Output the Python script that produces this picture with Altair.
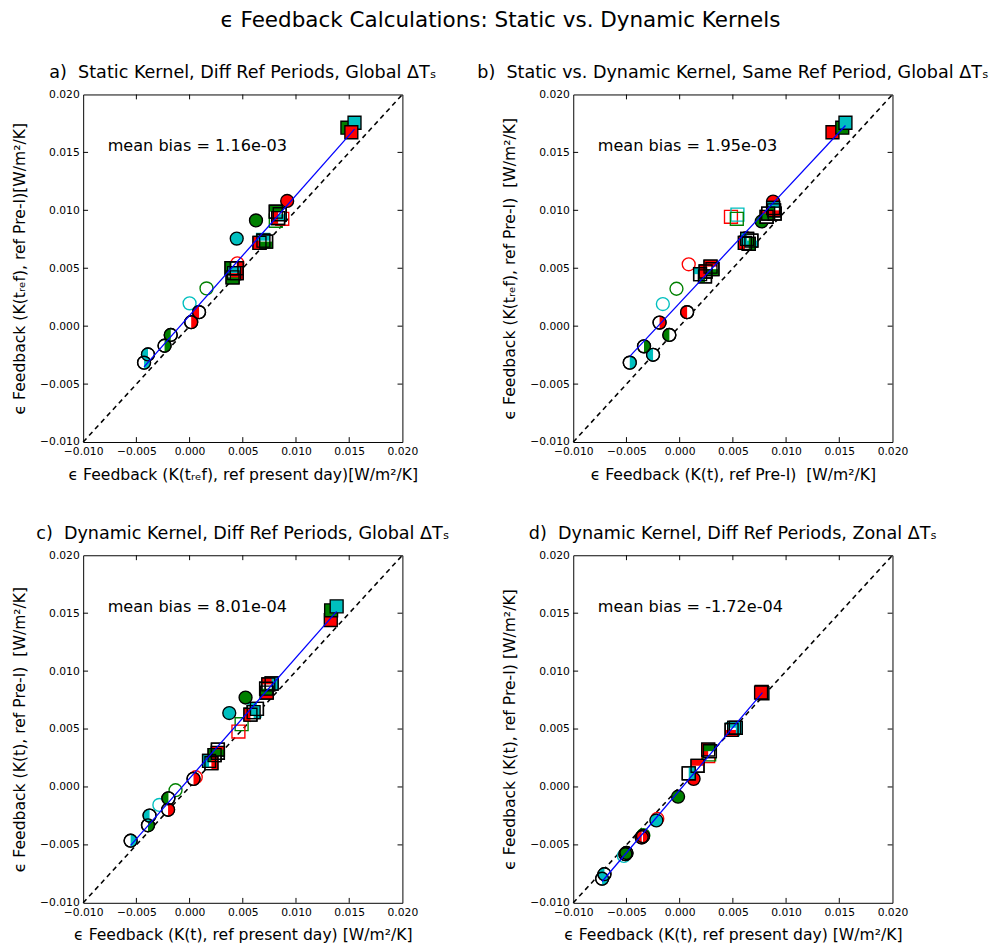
import altair as alt
import pandas as pd

FONT = "DejaVu Sans"
W, H = 327, 356

# ---------------- data ----------------
# panel a
A_X = [0.01483, 0.01550, 0.01520, 0.00917, 0.00624, 0.00443, 0.00449, 0.00159, 0.00000,
       0.00089, 0.00015, -0.00177, -0.00235, -0.00391, -0.00428,
       0.00810, 0.00871, 0.00690,
       0.00810, 0.00847, 0.00832, 0.00657, 0.00694, 0.00719,
       0.00394, 0.00443, 0.00419, 0.00443, 0.00404]
A_Y = [0.01713, 0.01756, 0.01674, 0.01081, 0.00913, 0.00756, 0.00542, 0.00326, 0.00197,
       0.00121, 0.00034, -0.00076, -0.00169, -0.00244, -0.00315,
       0.00910, 0.00927, 0.00745,
       0.00988, 0.00966, 0.00933, 0.00719, 0.00738, 0.00730,
       0.00500, 0.00500, 0.00458, 0.00458, 0.00421]
A_MARK = ["s", "s", "s", "o", "o", "o", "o", "o", "o",
          "o", "o", "o", "o", "o", "o",
          "s", "s", "s",
          "s", "s", "s", "s", "s", "s",
          "s", "s", "s", "s", "s"]
A_FILL = ["full", "full", "full", "full", "full", "full", "none", "none", "none",
          "left", "right", "left", "right", "left", "right",
          "none", "none", "none",
          "top", "bottom", "left", "left", "top", "bottom",
          "left", "right", "top", "bottom", "bottom"]
A_COL = ["g", "c", "r", "r", "g", "c", "r", "g", "c",
         "r", "r", "g", "g", "c", "c",
         "g", "r", "c",
         "g", "c", "r", "r", "c", "g",
         "g", "r", "c", "r", "g"]

# panel b
B_X = [0.01436, 0.01528, 0.01558, 0.00878, 0.00771, 0.00625, 0.00085, -0.00030, -0.00158,
       0.00070, -0.00189, -0.00097, -0.00335, -0.00250, -0.00469,
       0.00482, 0.00543, 0.00537,
       0.00192, 0.00238, 0.00244, 0.00290, 0.00308,
       0.00613, 0.00634, 0.00674, 0.00649,
       0.00817, 0.00832, 0.00893, 0.00878, 0.00887]
B_Y = [0.01674, 0.01713, 0.01756, 0.01076, 0.00904, 0.00759, 0.00534, 0.00323, 0.00191,
       0.00121, 0.00031, -0.00076, -0.00174, -0.00247, -0.00315,
       0.00944, 0.00963, 0.00927,
       0.00449, 0.00430, 0.00472, 0.00514, 0.00492,
       0.00719, 0.00753, 0.00739, 0.00711,
       0.00944, 0.00972, 0.00972, 0.01020, 0.01000]
B_MARK = ["s", "s", "s", "o", "o", "o", "o", "o", "o",
          "o", "o", "o", "o", "o", "o",
          "s", "s", "s",
          "s", "s", "s", "s", "s",
          "s", "s", "s", "s",
          "s", "s", "s", "s", "s"]
B_FILL = ["full", "full", "full", "full", "full", "full", "none", "none", "none",
          "left", "right", "left", "right", "left", "right",
          "none", "none", "none",
          "top", "left", "left", "top", "bottom",
          "left", "left", "bottom", "right",
          "top", "bottom", "left", "top", "bottom"]
B_COL = ["r", "g", "c", "r", "g", "c", "r", "g", "c",
         "r", "r", "g", "g", "c", "c",
         "r", "c", "g",
         "c", "g", "r", "r", "g",
         "r", "c", "c", "g",
         "r", "g", "g", "c", "r"]

# panel c
C_X = [0.01327, 0.01330, 0.01382, 0.00731, 0.00526, 0.00373, 0.00058, -0.00132, -0.00284,
       0.00037, -0.00202, -0.00199, -0.00391, -0.00376, -0.00554,
       0.00489, 0.00459, 0.00610,
       0.00725, 0.00719, 0.00740, 0.00771,
       0.00572, 0.00602, 0.00633,
       0.00266, 0.00266, 0.00235, 0.00205, 0.00183]
C_Y = [0.01441, 0.01525, 0.01559, 0.00848, 0.00772, 0.00638, 0.00084, -0.00028, -0.00155,
       0.00070, -0.00197, -0.00098, -0.00331, -0.00247, -0.00464,
       0.00542, 0.00478, 0.00660,
       0.00815, 0.00848, 0.00885, 0.00893,
       0.00624, 0.00646, 0.00674,
       0.00295, 0.00323, 0.00275, 0.00205, 0.00225]
C_MARK = ["s", "s", "s", "o", "o", "o", "o", "o", "o",
          "o", "o", "o", "o", "o", "o",
          "s", "s", "s",
          "s", "s", "s", "s",
          "s", "s", "s",
          "s", "s", "s", "s", "s"]
C_FILL = ["full", "full", "full", "full", "full", "full", "none", "none", "none",
          "right", "right", "left", "right", "left", "right",
          "none", "none", "none",
          "bottom", "bottom", "top", "right",
          "left", "right", "left",
          "top", "bottom", "left", "right", "left"]
C_COL = ["r", "g", "c", "r", "g", "c", "r", "g", "c",
         "r", "r", "g", "g", "c", "c",
         "g", "r", "c",
         "r", "g", "r", "c",
         "r", "c", "c",
         "r", "g", "g", "r", "c"]

# panel d
D_X = [0.00771, 0.00778, 0.00765,
       0.00488, 0.00512, 0.00528, 0.00268, 0.00284, 0.00168, 0.00085,
       0.00268, 0.00277, 0.00500,
       0.00131, -0.00015, -0.00219,
       -0.00210, -0.00341, -0.00524,
       -0.00357, -0.00345, -0.00500, -0.00510, -0.00729, -0.00707]
D_Y = [0.00820, 0.00809, 0.00815,
       0.00492, 0.00511, 0.00511, 0.00323, 0.00309, 0.00183, 0.00118,
       0.00267, 0.00281, 0.00500,
       0.00070, -0.00084, -0.00289,
       -0.00275, -0.00416, -0.00595,
       -0.00435, -0.00425, -0.00570, -0.00580, -0.00792, -0.00753]
D_MARK = ["s", "s", "s",
          "s", "s", "s", "s", "s", "s", "s",
          "s", "s", "s",
          "o", "o", "o",
          "o", "o", "o",
          "o", "o", "o", "o", "o", "o"]
D_FILL = ["full", "full", "full",
          "bottom", "top", "right", "left", "top", "top", "right",
          "none", "none", "none",
          "full", "full", "full",
          "none", "none", "none",
          "left", "right", "left", "right", "right", "left"]
D_COL = ["g", "c", "r",
         "r", "c", "c", "r", "g", "r", "c",
         "r", "g", "c",
         "r", "g", "c",
         "r", "g", "c",
         "r", "r", "g", "g", "c", "c"]

BIAS = ["mean bias = 1.16e-03", "mean bias = 1.95e-03", "mean bias = 8.01e-04", "mean bias = -1.72e-04"]
TITLES = ["a)\u00a0 Static Kernel, Diff Ref Periods, Global ΔTₛ",
          "b)\u00a0 Static vs. Dynamic Kernel, Same Ref Period, Global ΔTₛ",
          "c)\u00a0 Dynamic Kernel, Diff Ref Periods, Global ΔTₛ",
          "d)\u00a0 Dynamic Kernel, Diff Ref Periods, Zonal ΔTₛ"]
XTITLES = ["ϵ Feedback (K(tᵣₑf), ref present day)[W/m²/K]",
           "ϵ Feedback (K(t), ref Pre-I)\u00a0 [W/m²/K]",
           "ϵ Feedback (K(t), ref present day) [W/m²/K]",
           "ϵ Feedback (K(t), ref present day) [W/m²/K]"]
YTITLES = ["ϵ Feedback (K(tᵣₑf), ref Pre-I)[W/m²/K]",
           "ϵ Feedback (K(tᵣₑf), ref Pre-I)\u00a0 [W/m²/K]",
           "ϵ Feedback (K(t), ref Pre-I)\u00a0 [W/m²/K]",
           "ϵ Feedback (K(t), ref Pre-I) [W/m²/K]"]
TICKS = [-0.010, -0.005, 0.000, 0.005, 0.010, 0.015, 0.020]
INNER_TICKS = [-0.005, 0.000, 0.005, 0.010, 0.015]
DIAG = [-0.010, 0.020]
BIAS_POS = (-0.0077, 0.0155)

COLOR_DOMAIN = ["r", "g", "c"]
COLOR_RANGE = ["#ff0000", "#008000", "#00bfbf"]
HALF_KEYS = ["o_left", "o_right", "o_top", "o_bottom", "s_left", "s_right", "s_top", "s_bottom"]
HALF_PATHS = ["M0,-1A1,1 0 0,0 0,1Z", "M0,-1A1,1 0 0,1 0,1Z",
              "M-1,0A1,1 0 0,1 1,0Z", "M-1,0A1,1 0 0,0 1,0Z",
              "M-1,-1L0,-1L0,1L-1,1Z", "M0,-1L1,-1L1,1L0,1Z",
              "M-1,-1L1,-1L1,0L-1,0Z", "M-1,0L1,0L1,1L-1,1Z"]
MSIZE = 175


def panel(xs, ys, marks, fills, cols, title, xtitle, ytitle, bias):
    df = pd.DataFrame({"x": xs, "y": ys, "mark": marks, "fill": fills, "col": cols})
    df["key"] = df["mark"] + "_" + df["fill"]
    sc = alt.Scale(domain=[-0.010, 0.020], nice=False, zero=False)
    xax = alt.Axis(title=xtitle, values=TICKS, format=".3f", ticks=False, grid=False, domain=False,
                   labelPadding=4, labelFontSize=11, titleFontSize=16, titleFontWeight="normal",
                   titlePadding=10, labelOverlap=False, labelFlush=False)
    yax = alt.Axis(title=ytitle, values=TICKS, format=".3f", ticks=False, grid=False, domain=False,
                   labelPadding=4, labelFontSize=11, titleFontSize=16, titleFontWeight="normal",
                   titlePadding=12, labelOverlap=False, labelFlush=False)

    def X():
        return alt.X("x:Q", scale=sc, axis=xax)

    def Y():
        return alt.Y("y:Q", scale=sc, axis=yax)

    colsc = alt.Scale(domain=COLOR_DOMAIN, range=COLOR_RANGE)
    shape_full = alt.Shape("mark:N", scale=alt.Scale(domain=["o", "s"], range=["circle", "square"]), legend=None)
    shape_half = alt.Shape("key:N", scale=alt.Scale(domain=HALF_KEYS, range=HALF_PATHS), legend=None)

    base = alt.Chart(df)
    diag = alt.Chart(pd.DataFrame({"x": DIAG, "y": DIAG})).mark_line(
        color="black", strokeDash=[5, 4], strokeWidth=1.6).encode(x=X(), y=Y())
    openm = base.transform_filter("datum.fill == 'none'").mark_point(
        filled=False, size=MSIZE, strokeWidth=1.4, opacity=1).encode(
        x=X(), y=Y(), shape=shape_full, stroke=alt.Stroke("col:N", scale=colsc, legend=None))
    fullm = base.transform_filter("datum.fill == 'full'").mark_point(
        filled=True, size=MSIZE, stroke="black", strokeWidth=1.4, opacity=1).encode(
        x=X(), y=Y(), shape=shape_full, fill=alt.Fill("col:N", scale=colsc, legend=None))
    halfcond = "datum.fill != 'none' && datum.fill != 'full'"
    halfbase = base.transform_filter(halfcond).mark_point(
        filled=True, size=MSIZE, fill="white", stroke="black", strokeWidth=1.4, opacity=1).encode(
        x=X(), y=Y(), shape=shape_full)
    halffill = base.transform_filter(halfcond).mark_point(
        filled=True, size=MSIZE, strokeWidth=0, opacity=1).encode(
        x=X(), y=Y(), shape=shape_half, fill=alt.Fill("col:N", scale=colsc, legend=None))
    halfline = base.transform_filter(halfcond).mark_point(
        filled=False, size=MSIZE, stroke="black", strokeWidth=1.4, opacity=1).encode(
        x=X(), y=Y(), shape=shape_full)
    reg = base.transform_regression("x", "y").mark_line(color="blue", strokeWidth=1.3).encode(x=X(), y=Y())
    txt = alt.Chart(pd.DataFrame({"x": [BIAS_POS[0]], "y": [BIAS_POS[1]], "label": [bias]})).mark_text(
        align="left", baseline="middle", fontSize=16.5, font=FONT, color="black").encode(
        x=X(), y=Y(), text="label:N")
    xt = alt.Chart(pd.DataFrame({"x": INNER_TICKS}))
    yt = alt.Chart(pd.DataFrame({"y": INNER_TICKS}))
    tb = xt.mark_rule(color="black", strokeWidth=1).encode(x=X(), y=alt.value(H), y2=alt.value(H - 5))
    tt = xt.mark_rule(color="black", strokeWidth=1).encode(x=X(), y=alt.value(0), y2=alt.value(5))
    tl = yt.mark_rule(color="black", strokeWidth=1).encode(y=Y(), x=alt.value(0), x2=alt.value(5))
    tr = yt.mark_rule(color="black", strokeWidth=1).encode(y=Y(), x=alt.value(W), x2=alt.value(W - 5))

    return alt.layer(tb, tt, tl, tr, diag, openm, fullm, halfbase, halffill, halfline, reg, txt).resolve_scale(
        shape="independent").properties(
        width=W, height=H,
        title=alt.TitleParams(title, fontSize=18, fontWeight="normal", font=FONT, anchor="middle", offset=7))


pa = panel(A_X, A_Y, A_MARK, A_FILL, A_COL, TITLES[0], XTITLES[0], YTITLES[0], BIAS[0])
pb = panel(B_X, B_Y, B_MARK, B_FILL, B_COL, TITLES[1], XTITLES[1], YTITLES[1], BIAS[1])
pc = panel(C_X, C_Y, C_MARK, C_FILL, C_COL, TITLES[2], XTITLES[2], YTITLES[2], BIAS[2])
pd_ = panel(D_X, D_Y, D_MARK, D_FILL, D_COL, TITLES[3], XTITLES[3], YTITLES[3], BIAS[3])

chart = alt.concat(pa, pb, pc, pd_, columns=2, spacing={"row": 116, "column": 175}, bounds="flush").properties(
    title=alt.TitleParams("ϵ Feedback Calculations: Static vs. Dynamic Kernels", fontSize=22,
                          fontWeight="normal", font=FONT, anchor="middle", offset=33),
    padding={"left": 3, "top": -11, "right": 5, "bottom": 5},
).configure_view(stroke="black", strokeWidth=1).configure_axis(
    labelFont=FONT, titleFont=FONT, labelColor="black", titleColor="black"
).configure_title(font=FONT, color="black")

chart.save("out.html", embed_options={"renderer": "svg", "actions": False})
